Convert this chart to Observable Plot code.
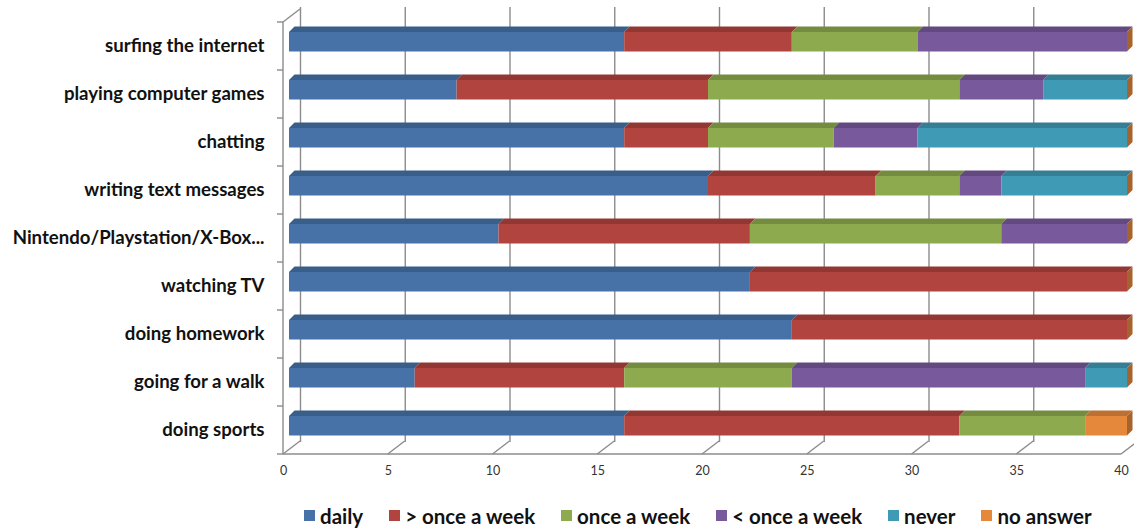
<!DOCTYPE html>
<html>
<head>
<meta charset="utf-8">
<script src="https://cdn.jsdelivr.net/npm/d3@7"></script>
<script src="https://cdn.jsdelivr.net/npm/@observablehq/plot@0.6"></script>
<style>
  html, body { margin: 0; padding: 0; background: #fff; }
  #chart { width: 1134px; height: 490px; }
  #legend {
    display: flex; align-items: center; height: 51px; width: 1134px;
    box-sizing: border-box; white-space: nowrap;
    padding-left: 304px; font-family: Lato, "Open Sans", sans-serif;
    font-weight: 700; font-size: 20.5px; color: #111;
  }
  #legend .item { display: flex; align-items: center; margin-right: 26px; flex: 0 0 auto; }
  #legend .sw { width: 11px; height: 11px; margin-right: 5px; flex: 0 0 auto; }
</style>
</head>
<body>
<div id="chart"></div>
<script>
// Leisure activities of 40 pupils, by frequency
const categories = [
  "surfing the internet",
  "playing computer games",
  "chatting",
  "writing text messages",
  "Nintendo/Playstation/X-Box...",
  "watching TV",
  "doing homework",
  "going for a walk",
  "doing sports"
];
const series = ["daily", "> once a week", "once a week", "< once a week", "never", "no answer"];
const daily          = [16,  8, 16, 20, 10, 22, 24,  6, 16];
const moreThanWeekly = [ 8, 12,  4,  8, 12, 18, 16, 10, 16];
const onceAWeek      = [ 6, 12,  6,  4, 12,  0,  0,  8,  6];
const lessThanWeekly = [10,  4,  4,  2,  6,  0,  0, 14,  0];
const never          = [ 0,  4, 10,  6,  0,  0,  0,  2,  0];
const noAnswer       = [ 0,  0,  0,  0,  0,  0,  0,  0,  2];
const xTicks = [0, 5, 10, 15, 20, 25, 30, 35, 40];

const colors = ["#4672A8", "#B2443F", "#8DAA4E", "#77599C", "#3F9AB6", "#E5883C"];
const seriesValues = [daily, moreThanWeekly, onceAWeek, lessThanWeekly, never, noAnswer];

// long table for the stacked bars
const rows = [];
categories.forEach((c, i) => {
  series.forEach((s, j) => rows.push({category: c, series: s, value: seriesValues[j][i]}));
});

const INSET_TOP = 10, INSET_BOTTOM = 18.5;  // front face of each bar within its band
const DEPTH = 5.5;                          // bar depth (top and side faces)
const WALL_DX = 17, WALL_DY = 13;           // floor depth
const FRONT_DX = -6;                        // floor front edge relative to bar plane
const gray = "#8c8c8c";

// 3-D floor, left wall and category ticks
function frame(index, scales) {
  const {x, y} = scales;
  const g = d3.create("svg:g").attr("fill", "none").attr("stroke", gray).attr("stroke-width", 1.4);
  const bw = y.bandwidth();
  const top = y(categories[0]);
  const floor = y(categories[categories.length - 1]) + bw;
  const x0 = x(0) + FRONT_DX;
  const xEnd = x(40) + FRONT_DX;
  g.append("line").attr("x1", x0).attr("x2", xEnd).attr("y1", floor).attr("y2", floor);
  g.append("line").attr("x1", x0).attr("x2", x0).attr("y1", top).attr("y2", floor);
  g.append("line").attr("x1", x0).attr("x2", x0 + WALL_DX).attr("y1", top).attr("y2", top - WALL_DY);
  for (const t of xTicks) {
    const xt = x(t) + FRONT_DX;
    g.append("line").attr("x1", xt).attr("x2", xt + WALL_DX).attr("y1", floor).attr("y2", floor - WALL_DY);
  }
  const bounds = categories.map(c => y(c)).concat([floor]);
  for (const b of bounds) {
    g.append("line").attr("x1", x0 - 6).attr("x2", x0).attr("y1", b).attr("y2", b);
  }
  return g.node();
}

// top and right faces of the stacked bars
function faces(index, scales) {
  const {x, y} = scales;
  const g = d3.create("svg:g");
  const bw = y.bandwidth();
  categories.forEach((c, i) => {
    const top = y(c) + INSET_TOP;
    const bottom = y(c) + bw - INSET_BOTTOM;
    let acc = 0;
    seriesValues.forEach((vals, s) => {
      const v = vals[i];
      if (v <= 0) return;
      const x1 = x(acc), x2 = x(acc + v);
      acc += v;
      g.append("path")
        .attr("d", `M${x1},${top}L${x1 + DEPTH},${top - DEPTH}L${x2 + DEPTH},${top - DEPTH}L${x2},${top}Z`)
        .attr("fill", d3.color(colors[s]).darker(0.55));
    });
    const xe = x(acc);
    g.append("path")
      .attr("d", `M${xe},${top}L${xe + DEPTH},${top - DEPTH}L${xe + DEPTH},${bottom - DEPTH}L${xe},${bottom}Z`)
      .attr("fill", d3.color(colors[5]).darker(0.9));
  });
  return g.node();
}

const chart = Plot.plot({
  width: 1134,
  height: 490,
  marginLeft: 289,
  marginRight: 7,
  marginTop: 20,
  marginBottom: 35,
  style: {fontFamily: "Lato, 'Open Sans', sans-serif", background: "#fff"},
  x: {domain: [0, 40], axis: null},
  y: {domain: categories, padding: 0, axis: null},
  color: {domain: series, range: colors},
  marks: [
    // gridlines on the back wall
    Plot.ruleX(xTicks, {dx: 17 + FRONT_DX, dy: -WALL_DY, stroke: gray, strokeWidth: 1.4, strokeOpacity: 1}),
    frame,
    Plot.barX(rows, Plot.stackX({
      x: "value", y: "category", fill: "series",
      insetTop: INSET_TOP, insetBottom: INSET_BOTTOM
    })),
    faces,
    // category labels
    Plot.axisY({
      tickSize: 0, tickPadding: 25, label: null,
      fontSize: 18.6, fontWeight: 700, fill: "#111"
    }),
    // value labels along the floor
    Plot.axisX({
      ticks: xTicks, tickSize: 0, tickPadding: 11, dx: FRONT_DX, label: null,
      fontSize: 12.5, fill: "#333", tickFormat: d => d
    })
  ]
});
document.getElementById("chart").appendChild(chart);

// legend below the chart
const legend = d3.select("body").append("div").attr("id", "legend");
series.forEach((s, i) => {
  const item = legend.append("div").attr("class", "item");
  item.append("div").attr("class", "sw").style("background", colors[i]);
  item.append("span").text(s);
});
</script>
</body>
</html>
